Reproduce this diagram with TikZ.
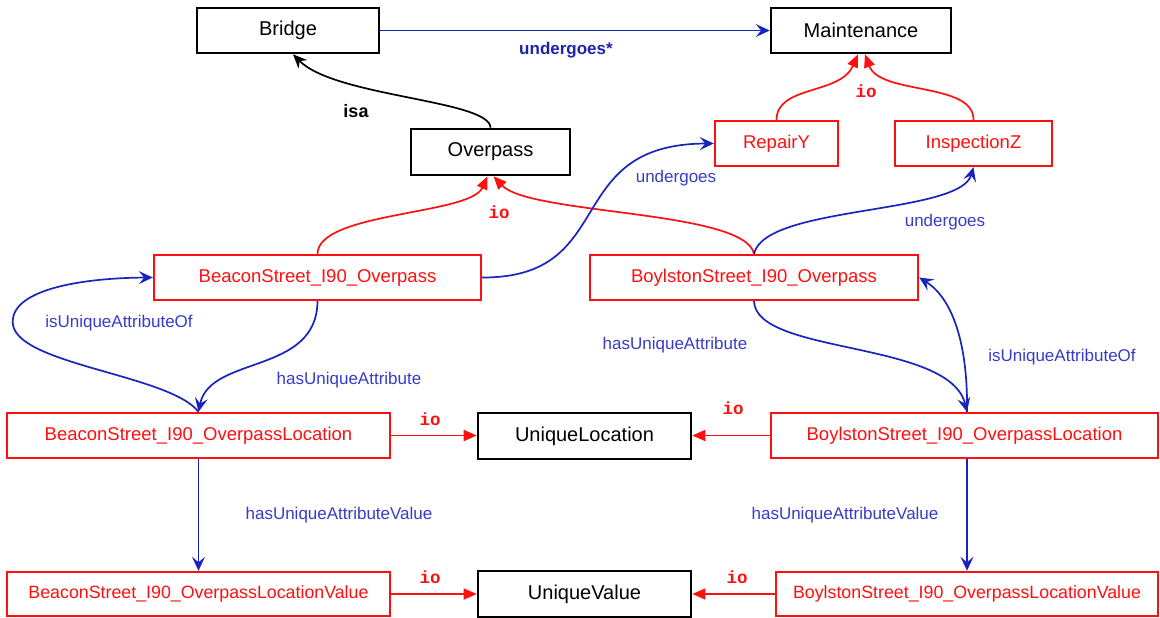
\documentclass[tikz,border=0pt]{standalone}
\usepackage{fontspec}
\setmainfont{Liberation Sans}
\newfontfamily\iofont{Liberation Mono}
\usetikzlibrary{arrows.meta}
\definecolor{eblue}{RGB}{25,35,190}
\definecolor{lblue}{RGB}{55,60,200}
\definecolor{dblue}{RGB}{30,35,170}
\definecolor{ered}{RGB}{255,15,15}
\begin{document}
\begin{tikzpicture}[x=1pt,y=-1pt,
 cls/.style={draw=black,line width=2.6pt,fill=white,inner sep=0pt,font=\fontsize{20}{22}\selectfont},
 inst/.style={draw=ered,line width=2.4pt,fill=white,inner sep=0pt,text=ered,font=\fontsize{18.5}{20}\selectfont},
 rel/.style={draw=eblue,line width=1.7pt,-{Stealth[length=14pt,width=13pt,inset=5.5pt]}},
 isarel/.style={draw=black,line width=1.7pt,-{Stealth[length=14pt,width=12pt,inset=4.5pt]}},
 iorel/.style={draw=ered,line width=1.7pt,-{Triangle[length=13pt,width=11pt]}},
 lbl/.style={text=lblue,font=\fontsize{17}{18}\selectfont,inner sep=0pt},
 iolbl/.style={text=ered,font=\iofont\bfseries\fontsize{17.5}{18}\selectfont,inner sep=0pt},
]
\useasboundingbox (0,0) rectangle (1160,618);
% class nodes
\node[cls,minimum width=182pt,minimum height=45pt] (bridge) at (288,30.5) {Bridge};
\node[cls,minimum width=180pt,minimum height=45pt] (maint) at (861,30.5) {Maintenance};
\node[cls,minimum width=159pt,minimum height=46pt] (overpass) at (490.5,152) {Overpass};
\node[cls,minimum width=213pt,minimum height=46pt] (uloc) at (584.5,436) {UniqueLocation};
\node[cls,minimum width=213pt,minimum height=46pt] (uval) at (584.5,594) {UniqueValue};
% instance nodes
\node[inst,minimum width=123pt,minimum height=45pt] (repair) at (776.5,143.5) {RepairY};
\node[inst,minimum width=157pt,minimum height=45pt] (insp) at (973.5,143.5) {InspectionZ};
\node[inst,minimum width=327pt,minimum height=45pt] (bover) at (317.5,277.5) {BeaconStreet\_I90\_Overpass};
\node[inst,minimum width=328pt,minimum height=45pt] (yover) at (754,277.5) {BoylstonStreet\_I90\_Overpass};
\node[inst,minimum width=383pt,minimum height=45pt] (bloc) at (198.5,435.5) {BeaconStreet\_I90\_OverpassLocation};
\node[inst,minimum width=387pt,minimum height=45pt] (yloc) at (964.5,435.5) {BoylstonStreet\_I90\_OverpassLocation};
\node[inst,minimum width=383pt,minimum height=44pt,font=\fontsize{17.8}{20}\selectfont] (bval) at (198.5,594) {BeaconStreet\_I90\_OverpassLocationValue};
\node[inst,minimum width=382pt,minimum height=44pt,font=\fontsize{17.8}{20}\selectfont] (yval) at (967,594) {BoylstonStreet\_I90\_OverpassLocationValue};
% connectors
\draw[rel] (bridge.east) -- (maint.west);
\draw[isarel] (overpass.north) .. controls (490,100) and (335,97) .. ([xshift=5pt]bridge.south);
\draw[iorel] (bover.north) .. controls (318,212) and (470,215) .. ([xshift=-3pt]overpass.south);
\draw[iorel] (yover.north) .. controls (745,210) and (530,215) .. ([xshift=3pt]overpass.south);
\draw[iorel] (repair.north) .. controls (777,85) and (840,95) .. ([xshift=-3pt]maint.south);
\draw[iorel] (insp.north) .. controls (974,82) and (880,95) .. ([xshift=4pt]maint.south);
\draw[rel] (bover.east) .. controls (620,278) and (560,144) .. (repair.west);
\draw[rel] (yover.north) .. controls (765,205) and (960,215) .. (insp.south);
\draw[rel] (bover.south) .. controls (317,375) and (210,355) .. (bloc.north);
\draw[rel] (bloc.north) .. controls (170,375) and (20,365) .. (13,325) .. controls (8,290) and (80,278) .. (bover.west);
\draw[rel] (yover.south) .. controls (756,355) and (950,340) .. (yval.north |- yloc.north);
\draw[rel] (yval.north |- yloc.north) .. controls (968,350) and (955,300) .. (yover.east);
\draw[iorel] (bloc.east) -- (bloc.east -| uloc.west);
\draw[iorel] (yloc.west) -- (yloc.west -| uloc.east);
\draw[iorel] (bval.east) -- (bval.east -| uval.west);
\draw[iorel] (yval.west) -- (yval.west -| uval.east);
\draw[rel] (bloc.south) -- (bval.north);
\draw[rel] (yval.north |- yloc.south) -- (yval.north);
% labels
\node[text=dblue,font=\bfseries\fontsize{17}{18}\selectfont,inner sep=0pt] (lustar) at (566,50) {undergoes*};
\node[font=\bfseries\fontsize{18}{19}\selectfont,inner sep=0pt] (lisa) at (356,111) {isa};
\node[lbl] (l1) at (676,178) {undergoes};
\node[lbl] (l2) at (945,222) {undergoes};
\node[lbl] (l3) at (119,323) {isUniqueAttributeOf};
\node[lbl] (l4) at (349,380) {hasUniqueAttribute};
\node[lbl] (l5) at (675,345) {hasUniqueAttribute};
\node[lbl] (l6) at (1062,357) {isUniqueAttributeOf};
\node[lbl] (l7) at (339,515) {hasUniqueAttributeValue};
\node[lbl] (l8) at (845,515) {hasUniqueAttributeValue};
\node[iolbl] (io1) at (499,212) {io};
\node[iolbl] (io2) at (866,91) {io};
\node[iolbl] (io3) at (430,419) {io};
\node[iolbl] (io4) at (733,408) {io};
\node[iolbl] (io5) at (430,577) {io};
\node[iolbl] (io6) at (737,577) {io};
\end{tikzpicture}
\end{document}
